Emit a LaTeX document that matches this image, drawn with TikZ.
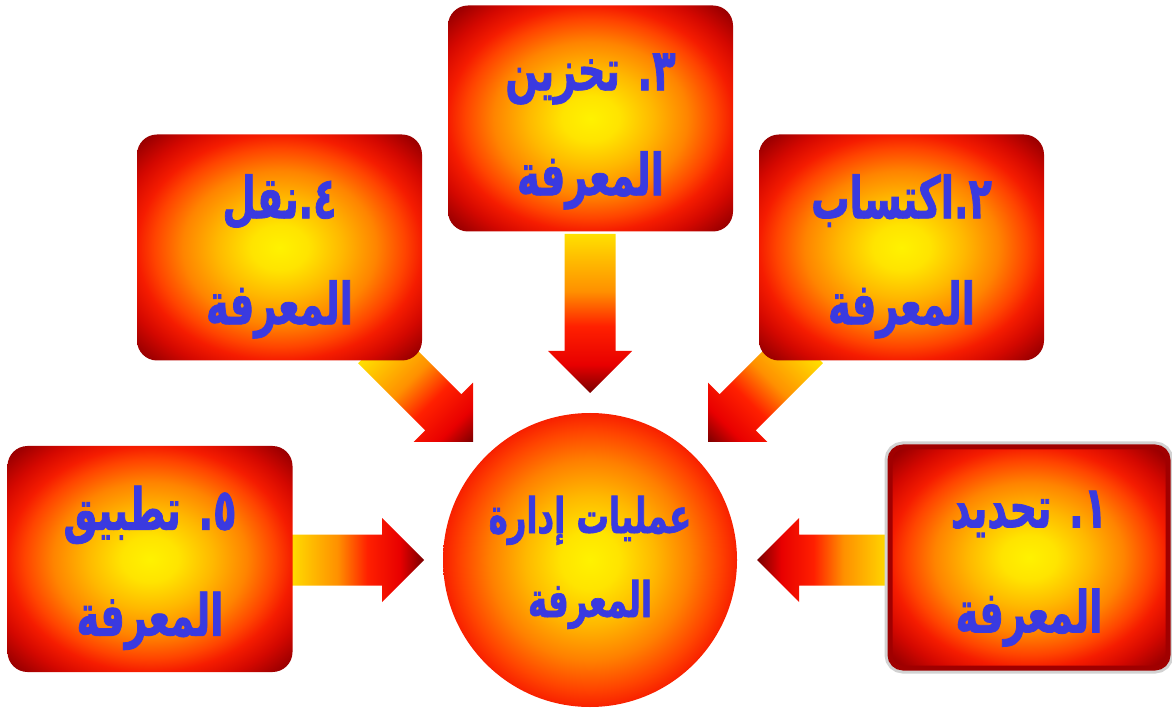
\documentclass[tikz,border=0pt]{standalone}
\usepackage{fontspec}
\newfontfamily\arfont[Script=Arabic, FakeStretch=0.66, FakeBold=1.3]{DejaVu Sans}
\TeXXeTstate=1
\definecolor{txtblue}{RGB}{58,58,224}
\definecolor{s0}{HTML}{FFF200}
\definecolor{s1}{HTML}{FFE400}
\definecolor{s2}{HTML}{FFB800}
\definecolor{s3}{HTML}{FF8400}
\definecolor{s4}{HTML}{FF4400}
\definecolor{s5}{HTML}{F51C00}
\definecolor{s6}{HTML}{D40800}
\definecolor{s7}{HTML}{A20000}
\definecolor{s8}{HTML}{720000}
\definecolor{c1}{HTML}{FFE400}
\definecolor{c2}{HTML}{FFB800}
\definecolor{c3}{HTML}{FF8000}
\definecolor{c4}{HTML}{FF4400}
\definecolor{c5}{HTML}{F82000}
\definecolor{ay}{HTML}{FFE000}
\definecolor{ayy}{HTML}{FFC000}
\definecolor{ao}{HTML}{FF9000}
\definecolor{ar}{HTML}{FF2000}
\definecolor{arr}{HTML}{E80000}
\definecolor{adr}{HTML}{7A0000}
\definecolor{bevel}{HTML}{A00000}
\pgfdeclareradialshading{boxgrad}{\pgfpoint{0bp}{0bp}}{color(0bp)=(s0); color(5bp)=(s1); color(11bp)=(s2); color(17bp)=(s3); color(22bp)=(s4); color(25bp)=(s5); color(29bp)=(s6); color(33bp)=(s7); color(37bp)=(s8); color(50bp)=(s8)}
\pgfdeclareradialshading{circgrad}{\pgfpoint{0bp}{0bp}}{color(0bp)=(s0); color(5bp)=(c1); color(11bp)=(c2); color(17bp)=(c3); color(22bp)=(c4); color(25bp)=(c5); color(50bp)=(c5)}
\pgfdeclarehorizontalshading{arrowgrad}{100bp}{color(0bp)=(ay); color(25bp)=(ay); color(32bp)=(ayy); color(43bp)=(ao); color(54bp)=(ar); color(66bp)=(arr); color(75bp)=(adr); color(100bp)=(adr)}
\newcommand\blockarr[3]{%
  \begin{scope}[transform canvas={shift={(#1)},rotate=#2}]
    \shade[blockarrow] (-#3,-25.5) -- (-42,-25.5) -- (-42,-42) -- (0,0) -- (-42,42) -- (-42,25.5) -- (-#3,25.5) -- cycle;
  \end{scope}}
\begin{document}
\begin{tikzpicture}[x=1pt,y=1pt,
  box/.style={rectangle, rounded corners=20pt, minimum width=285pt, minimum height=226pt,
    shade, shading=boxgrad, inner sep=0pt},
  hub/.style={circle, minimum size=294pt, shade, shading=circgrad, inner sep=0pt},
  lbl/.style={anchor=base, inner sep=0pt, text=txtblue,
    font=\arfont\bfseries\fontsize{58}{60}\selectfont},
  hublbl/.style={anchor=base, inner sep=0pt, text=txtblue,
    font=\arfont\bfseries\fontsize{49}{50}\selectfont},
  blockarrow/.style={shade, shading=arrowgrad}]
\useasboundingbox (0,0) rectangle (1172,710);
\coordinate (t3) at (590,317);
\coordinate (t4) at (473,268);
\coordinate (t2) at (708,268);
\coordinate (t5) at (424,150);
\coordinate (t1) at (757,150);
\blockarr{t3}{-90}{159}
\blockarr{t4}{-45}{137}
\blockarr{t2}{-135}{137}
\blockarr{t5}{0}{135}
\blockarr{t1}{180}{135}
\node[box] (b3) at (590.5,591.5) {};
\node[box] (b4) at (279.5,462.5) {};
\node[box] (b2) at (901.5,462.5) {};
\node[box] (b5) at (150,151) {};
\node[box, rounded corners=13pt, minimum width=278pt, minimum height=221pt,
  preaction={draw=gray!35, line width=11pt}, draw=bevel, line width=5pt] (b1) at (1029,152.5) {};
\node[hub] (c) at (590,150) {};
\node[lbl] (b3a) at ([yshift=-85]b3.north) {\beginR ٣. تخزين\endR};
\node[lbl] (b3b) at ([yshift=-190]b3.north) {\beginR المعرفة\endR};
\node[lbl] (b4a) at ([yshift=-84]b4.north) {\beginR ٤.نقل\endR};
\node[lbl] (b4b) at ([yshift=-190]b4.north) {\beginR المعرفة\endR};
\node[lbl] (b2a) at ([yshift=-84]b2.north) {\beginR ٢.اكتساب\endR};
\node[lbl] (b2b) at ([yshift=-190]b2.north) {\beginR المعرفة\endR};
\node[lbl] (b5a) at ([yshift=-84]b5.north) {\beginR ٥. تطبيق\endR};
\node[lbl] (b5b) at ([yshift=-190]b5.north) {\beginR المعرفة\endR};
\node[lbl] (b1a) at ([yshift=-83]b1.north) {\beginR ١. تحديد\endR};
\node[lbl] (b1b) at ([yshift=-188]b1.north) {\beginR المعرفة\endR};
\node[hublbl] (ca) at ([yshift=27]c.center) {\beginR عمليات إدارة\endR};
\node[hublbl] (cb) at ([yshift=-57]c.center) {\beginR المعرفة\endR};
\end{tikzpicture}
\end{document}
